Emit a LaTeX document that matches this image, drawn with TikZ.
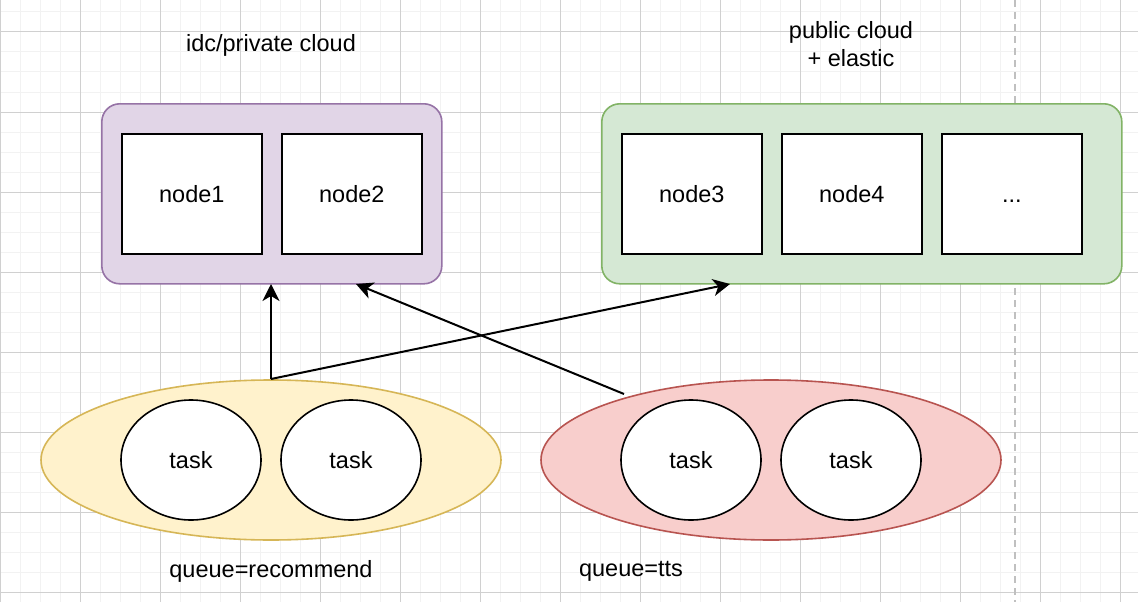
\documentclass[tikz,border=0pt]{standalone}
\usepackage{fontspec}
\setmainfont{Liberation Sans}
\usetikzlibrary{arrows.meta,shapes.geometric}
\definecolor{gridminor}{HTML}{F2F2F2}
\definecolor{gridmajor}{HTML}{D0D0D0}
\definecolor{purfill}{HTML}{E1D5E7}
\definecolor{purline}{HTML}{9673A6}
\definecolor{grnfill}{HTML}{D5E8D4}
\definecolor{grnline}{HTML}{82B366}
\definecolor{yelfill}{HTML}{FFF2CC}
\definecolor{yelline}{HTML}{D6B656}
\definecolor{redfill}{HTML}{F8CECC}
\definecolor{redline}{HTML}{B85450}
\definecolor{dashgrey}{HTML}{C0C0C0}
\begin{document}
\begin{tikzpicture}[x=1pt,y=-1pt,
  txt/.style={font=\fontsize{23.5}{28}\selectfont,align=center,inner sep=0pt},
  group/.style={draw,line width=1.6pt,rounded corners=18pt,minimum width=340pt,minimum height=180pt,anchor=north west,inner sep=0pt},
  srv/.style={draw=black,fill=white,line width=1.6pt,minimum width=140pt,minimum height=120pt,anchor=north west,txt},
  queue/.style={ellipse,draw,line width=1.6pt,minimum width=460pt,minimum height=160pt,inner sep=0pt},
  task/.style={ellipse,draw=black,fill=white,line width=1.6pt,minimum width=140pt,minimum height=120pt,inner sep=0pt,txt},
  arr/.style={line width=2pt,-{Stealth[length=17pt,width=17pt,inset=5pt]}}]
\useasboundingbox (0,0) rectangle (1138,602);
\fill[white] (0,0) rectangle (1138,602);
% grid
\foreach \x in {0,20,...,1138} \draw[gridminor,line width=1pt] (\x,0) -- (\x,602);
\foreach \y in {12,32,...,602} \draw[gridminor,line width=1pt] (0,\y) -- (1138,\y);
\foreach \x in {0,80,...,1138} \draw[gridmajor,line width=1pt] (\x,0) -- (\x,602);
\foreach \y in {32,112,...,602} \draw[gridmajor,line width=1pt] (0,\y) -- (1138,\y);
% dashed line
\coordinate (dtop) at (1015,0);
\coordinate (dbot) at (1015,602);
\draw[dashgrey,line width=2pt,dash pattern=on 7pt off 5pt] (dtop) -- (dbot);
% groups
\node[group,draw=purline,fill=purfill] (priv) at (101,103) {};
\node[group,draw=grnline,fill=grnfill,minimum width=520pt] (pub) at (601,103) {};
\node[srv] (n1) at (121,133) {node1};
\node[srv] (n2) at (281,133) {node2};
\node[srv] (n3) at (621,133) {node3};
\node[srv] (n4) at (781,133) {node4};
\node[srv] (n5) at (941,133) {\vphantom{node1}...};
% labels
\node[txt] (lpriv) at (271,45) {idc/private cloud};
\node[txt] (lpub) at (851,44) {public cloud\\+ elastic};
% queues
\node[queue,draw=yelline,fill=yelfill] (q1) at (271,460) {};
\node[queue,draw=redline,fill=redfill] (q2) at (771,460) {};
\node[task] (t1) at (191,460) {task};
\node[task] (t2) at (351,460) {task};
\node[task] (t3) at (691,460) {task};
\node[task] (t4) at (851,460) {task};
\node[txt] (lq1) at (271,571) {queue=recommend};
\node[txt] (lq2) at (631,571) {queue=tts};
% arrows
\coordinate (s1) at (271,379);
\coordinate (e1) at (271,284);
\coordinate (e2) at (730,284);
\coordinate (s3) at (624,394);
\coordinate (e3) at (356,284);
\draw[arr] (s1) -- (e1);
\draw[arr] (s1) -- (e2);
\draw[arr] (s3) -- (e3);
\end{tikzpicture}
\end{document}
